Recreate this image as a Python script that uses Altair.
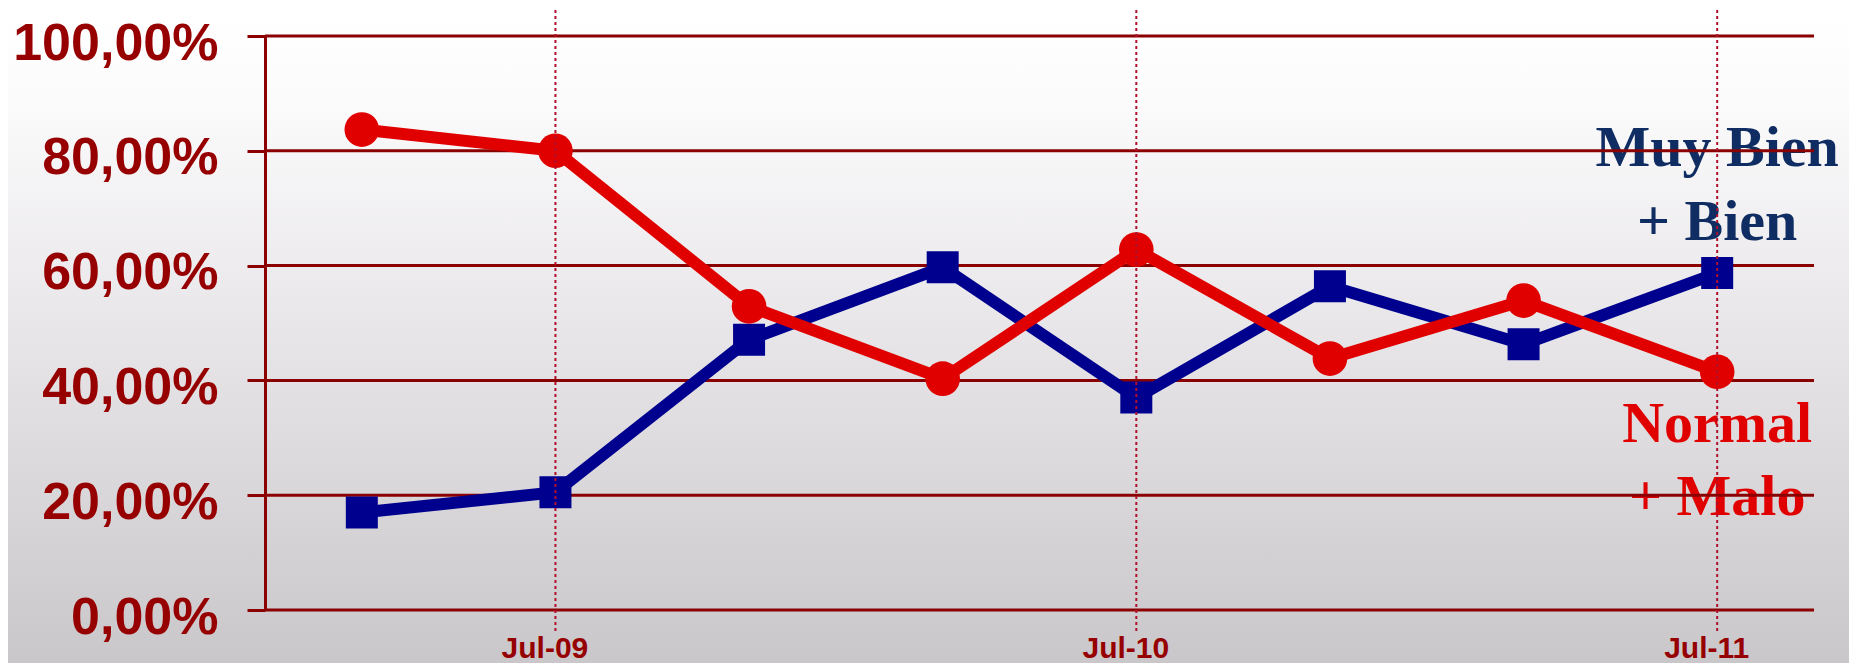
import altair as alt
import pandas as pd

# ---- data ----
periods = ["Mar-09", "Jul-09", "Nov-09", "Mar-10", "Jul-10", "Nov-10", "Mar-11", "Jul-11"]
muy_bien_bien = [17.0, 20.5, 47.1, 59.7, 37.0, 56.4, 46.3, 58.7]
normal_malo = [83.7, 80.0, 52.9, 40.3, 62.8, 43.8, 53.9, 41.5]
series_names = ["Muy Bien + Bien", "Normal + Malo"]
x_tick_labels = ["Jul-09", "Jul-10", "Jul-11"]
y_ticks = [0, 20, 40, 60, 80, 100]
blue_label_lines = ["Muy Bien", "+ Bien"]
red_label_lines = ["Normal", "+ Malo"]

# ---- layout / style ----
W, H = 1549, 574
PAD_L, PAD_T, PAD_R, PAD_B = 257, 28, 35, 53
RED = "#e00000"
BLUE = "#00008e"
GRID = "#8b0000"
LABEL = "#960000"
NAVY = "#0f2d62"
DOT = "#b0102c"
SANS = "Liberation Sans, Arial, sans-serif"
SERIF = "Liberation Serif, Times New Roman, serif"

df = pd.DataFrame({
    "period": periods * 2,
    "value": muy_bien_bien + normal_malo,
    "series": [series_names[0]] * len(periods) + [series_names[1]] * len(periods),
})
blue_df = df[df.series == series_names[0]]
red_df = df[df.series == series_names[1]]

xscale = alt.Scale(type="point", padding=0.5, domain=periods)
yscale = alt.Scale(domain=[0, 100], nice=False, zero=True)

x_axis = alt.Axis(
    values=x_tick_labels, title=None, labelAngle=0, labelFont=SANS,
    labelFontWeight="bold", labelFontSize=30, labelColor=LABEL,
    labelPadding=23, labelOffset=-11, ticks=False, tickSize=0,
    domain=False, grid=False, zindex=1, labelLimit=0,
)
y_axis = alt.Axis(
    values=y_ticks, title=None,
    labelExpr="replace(format(datum.value, '.2f'), '.', ',') + '%'",
    labelFont=SANS, labelFontWeight="bold", labelFontSize=52,
    labelColor=LABEL, labelPadding=29, labelOffset=7, labelLimit=0,
    tickSize=18, tickWidth=3, tickColor=GRID,
    domainColor=GRID, domainWidth=3, grid=False, zindex=1,
)

one = pd.DataFrame({"k": [0]})

background = alt.Chart(one).mark_rect(
    fill=alt.LinearGradient(
        gradient="linear",
        stops=[
            alt.GradientStop(offset=0, color="#ffffff"),
            alt.GradientStop(offset=0.12, color="#fdfcfd"),
            alt.GradientStop(offset=1, color="#cac7cb"),
        ],
        x1=0, x2=0, y1=0, y2=1,
    )
).encode(
    x=alt.value(-PAD_L), x2=alt.value(W + PAD_R),
    y=alt.value(-PAD_T), y2=alt.value(H + PAD_B),
)

blue_text = alt.Chart(pd.DataFrame({"period": ["Jul-11"], "value": [77.35]})).mark_text(
    text=blue_label_lines, font=SERIF, fontWeight="bold", fontSize=58,
    color=NAVY, align="center", baseline="alphabetic", lineHeight=74,
).encode(
    x=alt.X("period:O", scale=xscale, axis=x_axis),
    y=alt.Y("value:Q", scale=yscale, axis=y_axis),
)

red_text = alt.Chart(pd.DataFrame({"period": ["Jul-11"], "value": [29.3]})).mark_text(
    text=red_label_lines, font=SERIF, fontWeight="bold", fontSize=58,
    color=RED, align="center", baseline="alphabetic", lineHeight=73,
).encode(
    x=alt.X("period:O", scale=xscale),
    y=alt.Y("value:Q", scale=yscale),
)

hgrid = alt.Chart(pd.DataFrame({"value": y_ticks})).mark_rule(
    color=GRID, strokeWidth=3
).encode(
    y=alt.Y("value:Q", scale=yscale),
    x=alt.value(0), x2=alt.value(W),
)

blue_line = alt.Chart(blue_df).mark_line(color=BLUE, strokeWidth=12).encode(
    x=alt.X("period:O", scale=xscale),
    y=alt.Y("value:Q", scale=yscale),
)
red_line = alt.Chart(red_df).mark_line(color=RED, strokeWidth=12).encode(
    x=alt.X("period:O", scale=xscale),
    y=alt.Y("value:Q", scale=yscale),
)
blue_pts = alt.Chart(blue_df).mark_point(
    shape="square", filled=True, size=1024, color=BLUE, opacity=1
).encode(
    x=alt.X("period:O", scale=xscale),
    y=alt.Y("value:Q", scale=yscale),
)
red_pts = alt.Chart(red_df).mark_point(
    shape="circle", filled=True, size=1200, color=RED, opacity=1
).encode(
    x=alt.X("period:O", scale=xscale),
    y=alt.Y("value:Q", scale=yscale),
)

vdots = alt.Chart(pd.DataFrame({"period": x_tick_labels})).mark_rule(
    color=DOT, strokeWidth=2, strokeDash=[3, 3]
).encode(
    x=alt.X("period:O", scale=xscale),
    y=alt.value(-PAD_T - 10), y2=alt.value(H + 23),
)

chart = alt.layer(
    background, blue_text, red_text, hgrid, blue_line, red_line, blue_pts, red_pts, vdots
).properties(
    width=W, height=H,
    padding={"left": PAD_L, "top": PAD_T, "right": PAD_R, "bottom": PAD_B},
    autosize=alt.AutoSizeParams(type="none"),
).configure_view(stroke=None).configure(background="#ffffff")

chart.save("out.html", embed_options={"renderer": "svg", "actions": False})
